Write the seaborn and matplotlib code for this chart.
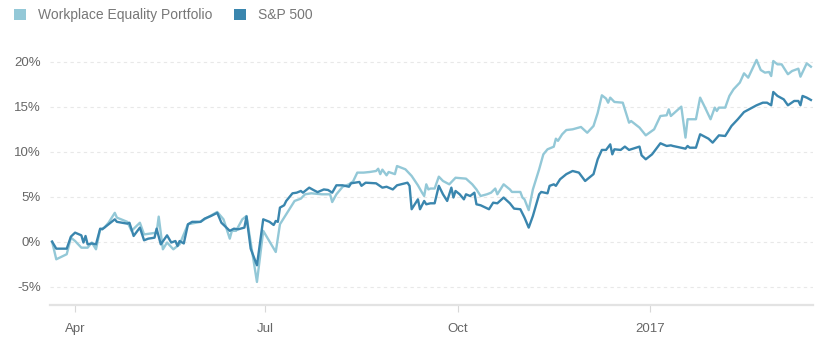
import pandas as pd
import matplotlib
matplotlib.use("Agg")
import matplotlib.pyplot as plt
from matplotlib.patches import Patch
from matplotlib.ticker import FuncFormatter
import seaborn as sns

# ---- data (cumulative return, %) ----
wep_dates = [
    "2016-03-21", "2016-03-23", "2016-03-28", "2016-03-30", "2016-04-01", "2016-04-04", "2016-04-07",
    "2016-04-09", "2016-04-11", "2016-04-13", "2016-04-15", "2016-04-17", "2016-04-20", "2016-04-21",
    "2016-04-26", "2016-04-28", "2016-05-02", "2016-05-04", "2016-05-10", "2016-05-11", "2016-05-13",
    "2016-05-15", "2016-05-18", "2016-05-21", "2016-05-25", "2016-05-31", "2016-06-02", "2016-06-08",
    "2016-06-11", "2016-06-14", "2016-06-15", "2016-06-17", "2016-06-20", "2016-06-22", "2016-06-24",
    "2016-06-27", "2016-06-30", "2016-07-06", "2016-07-08", "2016-07-10", "2016-07-13", "2016-07-15",
    "2016-07-18", "2016-07-20", "2016-07-23", "2016-07-28", "2016-08-01", "2016-08-02", "2016-08-04",
    "2016-08-07", "2016-08-10", "2016-08-12", "2016-08-14", "2016-08-17", "2016-08-20", "2016-08-23",
    "2016-08-24", "2016-08-25", "2016-08-26", "2016-08-28", "2016-08-29", "2016-09-01", "2016-09-02",
    "2016-09-06", "2016-09-09", "2016-09-12", "2016-09-14", "2016-09-15", "2016-09-16", "2016-09-17",
    "2016-09-18", "2016-09-20", "2016-09-22", "2016-09-24", "2016-09-27", "2016-09-30", "2016-10-05",
    "2016-10-08", "2016-10-10", "2016-10-12", "2016-10-15", "2016-10-17", "2016-10-19", "2016-10-20",
    "2016-10-23", "2016-10-26", "2016-10-27", "2016-10-31", "2016-11-01", "2016-11-02", "2016-11-04",
    "2016-11-06", "2016-11-09", "2016-11-11", "2016-11-13", "2016-11-16", "2016-11-17", "2016-11-18",
    "2016-11-20", "2016-11-22", "2016-11-25", "2016-11-29", "2016-12-02", "2016-12-05", "2016-12-07",
    "2016-12-09", "2016-12-11", "2016-12-12", "2016-12-13", "2016-12-15", "2016-12-19", "2016-12-22",
    "2016-12-23", "2016-12-27", "2016-12-30", "2017-01-03", "2017-01-06", "2017-01-09", "2017-01-10",
    "2017-01-11", "2017-01-16", "2017-01-18", "2017-01-19", "2017-01-23", "2017-01-25", "2017-01-27",
    "2017-01-30", "2017-02-01", "2017-02-02", "2017-02-03", "2017-02-06", "2017-02-08", "2017-02-10",
    "2017-02-13", "2017-02-15", "2017-02-17", "2017-02-21", "2017-02-23", "2017-02-25", "2017-02-27",
    "2017-02-28", "2017-03-01", "2017-03-03", "2017-03-05", "2017-03-08", "2017-03-10", "2017-03-13",
    "2017-03-14", "2017-03-17", "2017-03-19",
]
wep_values = [
    0.0, -1.96, -1.4, 0.44, 0.07, -0.67, -0.67,
    -0.1, -0.85, 1.37, 1.56, 2.1, 3.2, 2.67,
    2.2, 1.2, 2.1, 0.8, 1.0, 2.78, -0.85,
    -0.1, -0.85, -0.3, 1.93, 2.2, 2.5, 3.3,
    2.48, 0.33, 1.2, 1.2, 2.48, 2.85, -0.1,
    -4.48, 1.2, -1.15, 1.93, 2.67, 3.78, 4.52,
    4.78, 5.26, 5.37, 5.26, 5.26, 4.4, 5.26,
    6.1, 6.37, 6.7, 7.67, 7.67, 7.74, 7.85,
    8.1, 7.5, 8.0, 7.37, 7.74, 7.5, 8.4,
    8.04, 7.3, 6.26, 5.44, 5.07, 6.37, 5.8,
    5.9, 5.9, 7.22, 6.74, 6.37, 7.1, 7.0,
    6.37, 5.8, 5.07, 5.26, 5.44, 5.9, 5.26,
    6.37, 5.8, 5.52, 5.52, 4.9, 4.7, 3.5,
    5.8, 8.04, 9.7, 10.26, 10.55, 11.44, 11.2,
    11.93, 12.4, 12.48, 12.74, 12.1, 12.85, 14.3,
    16.26, 15.9, 15.44, 16.0, 15.52, 15.44, 13.22,
    13.4, 12.67, 11.81, 12.48, 13.96, 14.04, 14.7,
    13.96, 15.0, 11.56, 13.6, 13.6, 16.0, 15.07,
    13.6, 14.89, 14.52, 14.89, 14.89, 16.19, 16.93,
    17.67, 18.7, 18.22, 20.19, 19.07, 18.78, 18.85,
    18.4, 20.07, 19.7, 19.7, 18.6, 18.96, 19.22,
    18.33, 19.81, 19.44,
]

sp_dates = [
    "2016-03-21", "2016-03-23", "2016-03-28", "2016-03-30", "2016-04-01", "2016-04-04", "2016-04-05",
    "2016-04-06", "2016-04-07", "2016-04-09", "2016-04-11", "2016-04-13", "2016-04-14", "2016-04-17",
    "2016-04-20", "2016-04-21", "2016-04-26", "2016-04-27", "2016-04-29", "2016-05-02", "2016-05-04",
    "2016-05-06", "2016-05-09", "2016-05-10", "2016-05-12", "2016-05-15", "2016-05-17", "2016-05-19",
    "2016-05-20", "2016-05-21", "2016-05-23", "2016-05-25", "2016-05-27", "2016-05-31", "2016-06-02",
    "2016-06-05", "2016-06-08", "2016-06-10", "2016-06-14", "2016-06-16", "2016-06-18", "2016-06-21",
    "2016-06-22", "2016-06-24", "2016-06-27", "2016-06-30", "2016-07-03", "2016-07-05", "2016-07-06",
    "2016-07-07", "2016-07-08", "2016-07-10", "2016-07-11", "2016-07-14", "2016-07-16", "2016-07-18",
    "2016-07-19", "2016-07-22", "2016-07-24", "2016-07-26", "2016-07-29", "2016-07-31", "2016-08-02",
    "2016-08-04", "2016-08-07", "2016-08-10", "2016-08-11", "2016-08-15", "2016-08-16", "2016-08-18",
    "2016-08-23", "2016-08-26", "2016-08-28", "2016-08-31", "2016-09-02", "2016-09-07", "2016-09-08",
    "2016-09-09", "2016-09-12", "2016-09-13", "2016-09-15", "2016-09-16", "2016-09-18", "2016-09-20",
    "2016-09-22", "2016-09-24", "2016-09-26", "2016-09-28", "2016-09-29", "2016-09-30", "2016-10-02",
    "2016-10-04", "2016-10-05", "2016-10-07", "2016-10-09", "2016-10-10", "2016-10-12", "2016-10-16",
    "2016-10-18", "2016-10-20", "2016-10-23", "2016-10-26", "2016-10-28", "2016-10-31", "2016-11-02",
    "2016-11-04", "2016-11-06", "2016-11-09", "2016-11-10", "2016-11-13", "2016-11-14", "2016-11-16",
    "2016-11-17", "2016-11-19", "2016-11-22", "2016-11-25", "2016-11-28", "2016-12-01", "2016-12-05",
    "2016-12-07", "2016-12-09", "2016-12-11", "2016-12-13", "2016-12-14", "2016-12-15", "2016-12-18",
    "2016-12-20", "2016-12-22", "2016-12-27", "2016-12-28", "2016-12-30", "2017-01-02", "2017-01-05",
    "2017-01-06", "2017-01-09", "2017-01-11", "2017-01-12", "2017-01-18", "2017-01-19", "2017-01-20",
    "2017-01-23", "2017-01-25", "2017-01-29", "2017-01-31", "2017-02-03", "2017-02-06", "2017-02-09",
    "2017-02-12", "2017-02-15", "2017-02-18", "2017-02-21", "2017-02-24", "2017-02-26", "2017-02-28",
    "2017-03-01", "2017-03-03", "2017-03-06", "2017-03-08", "2017-03-11", "2017-03-13", "2017-03-14",
    "2017-03-15", "2017-03-17", "2017-03-19",
]
sp_values = [
    0.0, -0.78, -0.78, 0.56, 1.0, 0.7, -0.1,
    0.63, -0.3, -0.2, -0.3, 1.44, 1.37, 1.93,
    2.48, 2.2, 2.0, 2.1, 0.63, 1.56, 0.15,
    0.33, 0.44, 1.44, -0.3, 0.7, -0.1, 0.07,
    -0.48, 0.07, -0.2, 1.93, 2.2, 2.2, 2.56,
    2.85, 3.2, 2.1, 1.2, 1.44, 1.37, 1.56,
    2.8, -0.78, -2.63, 2.48, 2.2, 1.85, 2.3,
    2.2, 3.78, 4.04, 4.52, 5.37, 5.44, 5.63,
    5.44, 6.0, 5.74, 5.5, 5.8, 5.74, 5.44,
    6.26, 6.26, 6.1, 6.48, 6.63, 6.2, 6.55,
    6.48, 6.0, 6.1, 5.8, 6.26, 6.55, 6.2,
    3.6, 4.7, 3.6, 4.52, 4.15, 4.26, 4.26,
    6.2, 5.26, 4.52, 6.0, 4.9, 5.63, 5.26,
    4.7, 5.26, 5.07, 5.44, 4.15, 4.04, 3.6,
    4.33, 4.26, 4.9, 4.26, 3.67, 3.6, 2.67,
    1.56, 2.85, 5.26, 5.52, 5.37, 6.2, 6.37,
    6.2, 6.93, 7.5, 7.85, 7.67, 6.74, 7.5,
    9.15, 10.19, 10.19, 10.81, 9.7, 10.26, 10.19,
    10.56, 10.19, 10.56, 9.59, 9.15, 9.7, 10.63,
    10.93, 10.63, 10.7, 10.63, 10.33, 10.63, 10.44,
    10.44, 11.93, 11.44, 11.0, 11.81, 11.74, 12.85,
    13.59, 14.4, 14.78, 15.15, 15.44, 15.44, 15.15,
    16.63, 16.19, 15.81, 15.15, 15.63, 15.63, 15.15,
    16.19, 16.0, 15.74,
]

series_names = ["Workplace Equality Portfolio", "S&P 500"]
colors = ["#93c8d7", "#3a86ae"]
y_ticks = [-5, 0, 5, 10, 15, 20]

df = pd.concat([
    pd.DataFrame({"date": pd.to_datetime(wep_dates), "ret": wep_values, "series": series_names[0]}),
    pd.DataFrame({"date": pd.to_datetime(sp_dates), "ret": sp_values, "series": series_names[1]}),
])

plt.rcParams["font.family"] = ["Liberation Sans", "DejaVu Sans"]
fig = plt.figure(figsize=(8.28, 3.55), dpi=100)
ax = fig.add_axes([50 / 828, 50 / 355, 763 / 828, 270 / 355])

sns.lineplot(data=df, x="date", y="ret", hue="series", hue_order=series_names,
             palette=colors, estimator=None, linewidth=1.7, legend=False, ax=ax)

ax.set_xlim(pd.Timestamp("2016-03-20"), pd.Timestamp("2017-03-20"))
ax.set_ylim(-7.04, 22.96)
ax.set_yticks(y_ticks)
ax.yaxis.set_major_formatter(FuncFormatter(lambda v, p: f"{v:.0f}%"))
ax.set_xticks(pd.to_datetime(["2016-04-01", "2016-07-01", "2016-10-01", "2017-01-01"]))
ax.set_xticklabels(["Apr", "Jul", "Oct", "2017"])
ax.set_xlabel("")
ax.set_ylabel("")

ax.grid(axis="y", color="#e8e8e8", linestyle=(0, (3, 3)), linewidth=0.8)
ax.grid(axis="x", visible=False)
for s in ["top", "right", "left"]:
    ax.spines[s].set_visible(False)
ax.spines["bottom"].set_color("#e3e3e3")
ax.spines["bottom"].set_linewidth(1.6)
ax.tick_params(axis="y", length=0, pad=6.5, labelsize=9.5, labelcolor="#666666")
ax.tick_params(axis="x", length=5, width=0.8, color="#d8d8d8", pad=8,
               labelsize=9.5, labelcolor="#666666")

handles = [Patch(facecolor=c, edgecolor="none") for c in colors]
fig.legend(handles, series_names, loc="upper left", bbox_to_anchor=(14 / 828, 1 - 8 / 355),
           ncol=2, frameon=False, fontsize=10, labelcolor="#777777",
           handlelength=0.85, handleheight=0.85, handletextpad=0.85,
           columnspacing=1.6, borderpad=0, borderaxespad=0)

fig.savefig("out.png", dpi=100, facecolor="white")
